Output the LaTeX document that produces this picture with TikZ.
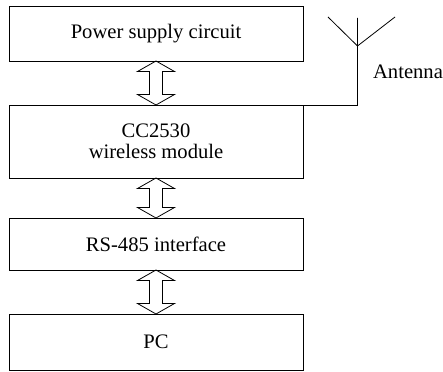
\documentclass[tikz,border=0pt]{standalone}
\usepackage{fontspec}
\setmainfont{Liberation Serif}
\usetikzlibrary{calc}
\tikzset{
	blockbox/.style={draw,line width=.9pt,outer sep=0pt,inner sep=0pt,minimum width=294pt,align=center,font=\fontsize{20.6}{21}\selectfont},
	linkarrow/.style={line width=.8pt,line join=miter}
}
\begin{document}
\begin{tikzpicture}[x=1pt,y=1pt]
	\useasboundingbox (0,0) rectangle (443,371);
	\node[blockbox,minimum height=55pt] (power) at (156,337.5) {Power supply circuit};
	\node[blockbox,minimum height=73pt] (module) at (156,229.5) {CC2530\\wireless module};
	\node[blockbox,minimum height=52pt] (rs) at (156,127) {RS-485 interface};
	\node[blockbox,minimum height=56pt] (pc) at (156,29) {PC};
	\foreach \a/\b in {power/module,module/rs,rs/pc} {
		\draw[linkarrow] (\a.south) -- ($(\a.south)+(18.5,-10.5)$) -- ($(\a.south)+(6.5,-10.5)$)
			-- ($(\b.north)+(6.5,10.5)$) -- ($(\b.north)+(18.5,10.5)$) -- (\b.north)
			-- ($(\b.north)+(-18.5,10.5)$) -- ($(\b.north)+(-6.5,10.5)$)
			-- ($(\a.south)+(-6.5,-10.5)$) -- ($(\a.south)+(-18.5,-10.5)$) -- cycle;
	}
	\coordinate (feed) at (357.5,325);
	\coordinate (tipl) at (328,354);
	\coordinate (tipm) at (357.5,353);
	\coordinate (tipr) at (395,354);
	\draw[line width=.8pt] (module.north east) -| (feed);
	\draw[line width=.8pt] (tipl) -- (feed) -- (tipr) (feed) -- (tipm);
	\node[font=\fontsize{20.6}{21}\selectfont,inner sep=0pt] (antenna) at (408,299) {Antenna};
\end{tikzpicture}
\end{document}
